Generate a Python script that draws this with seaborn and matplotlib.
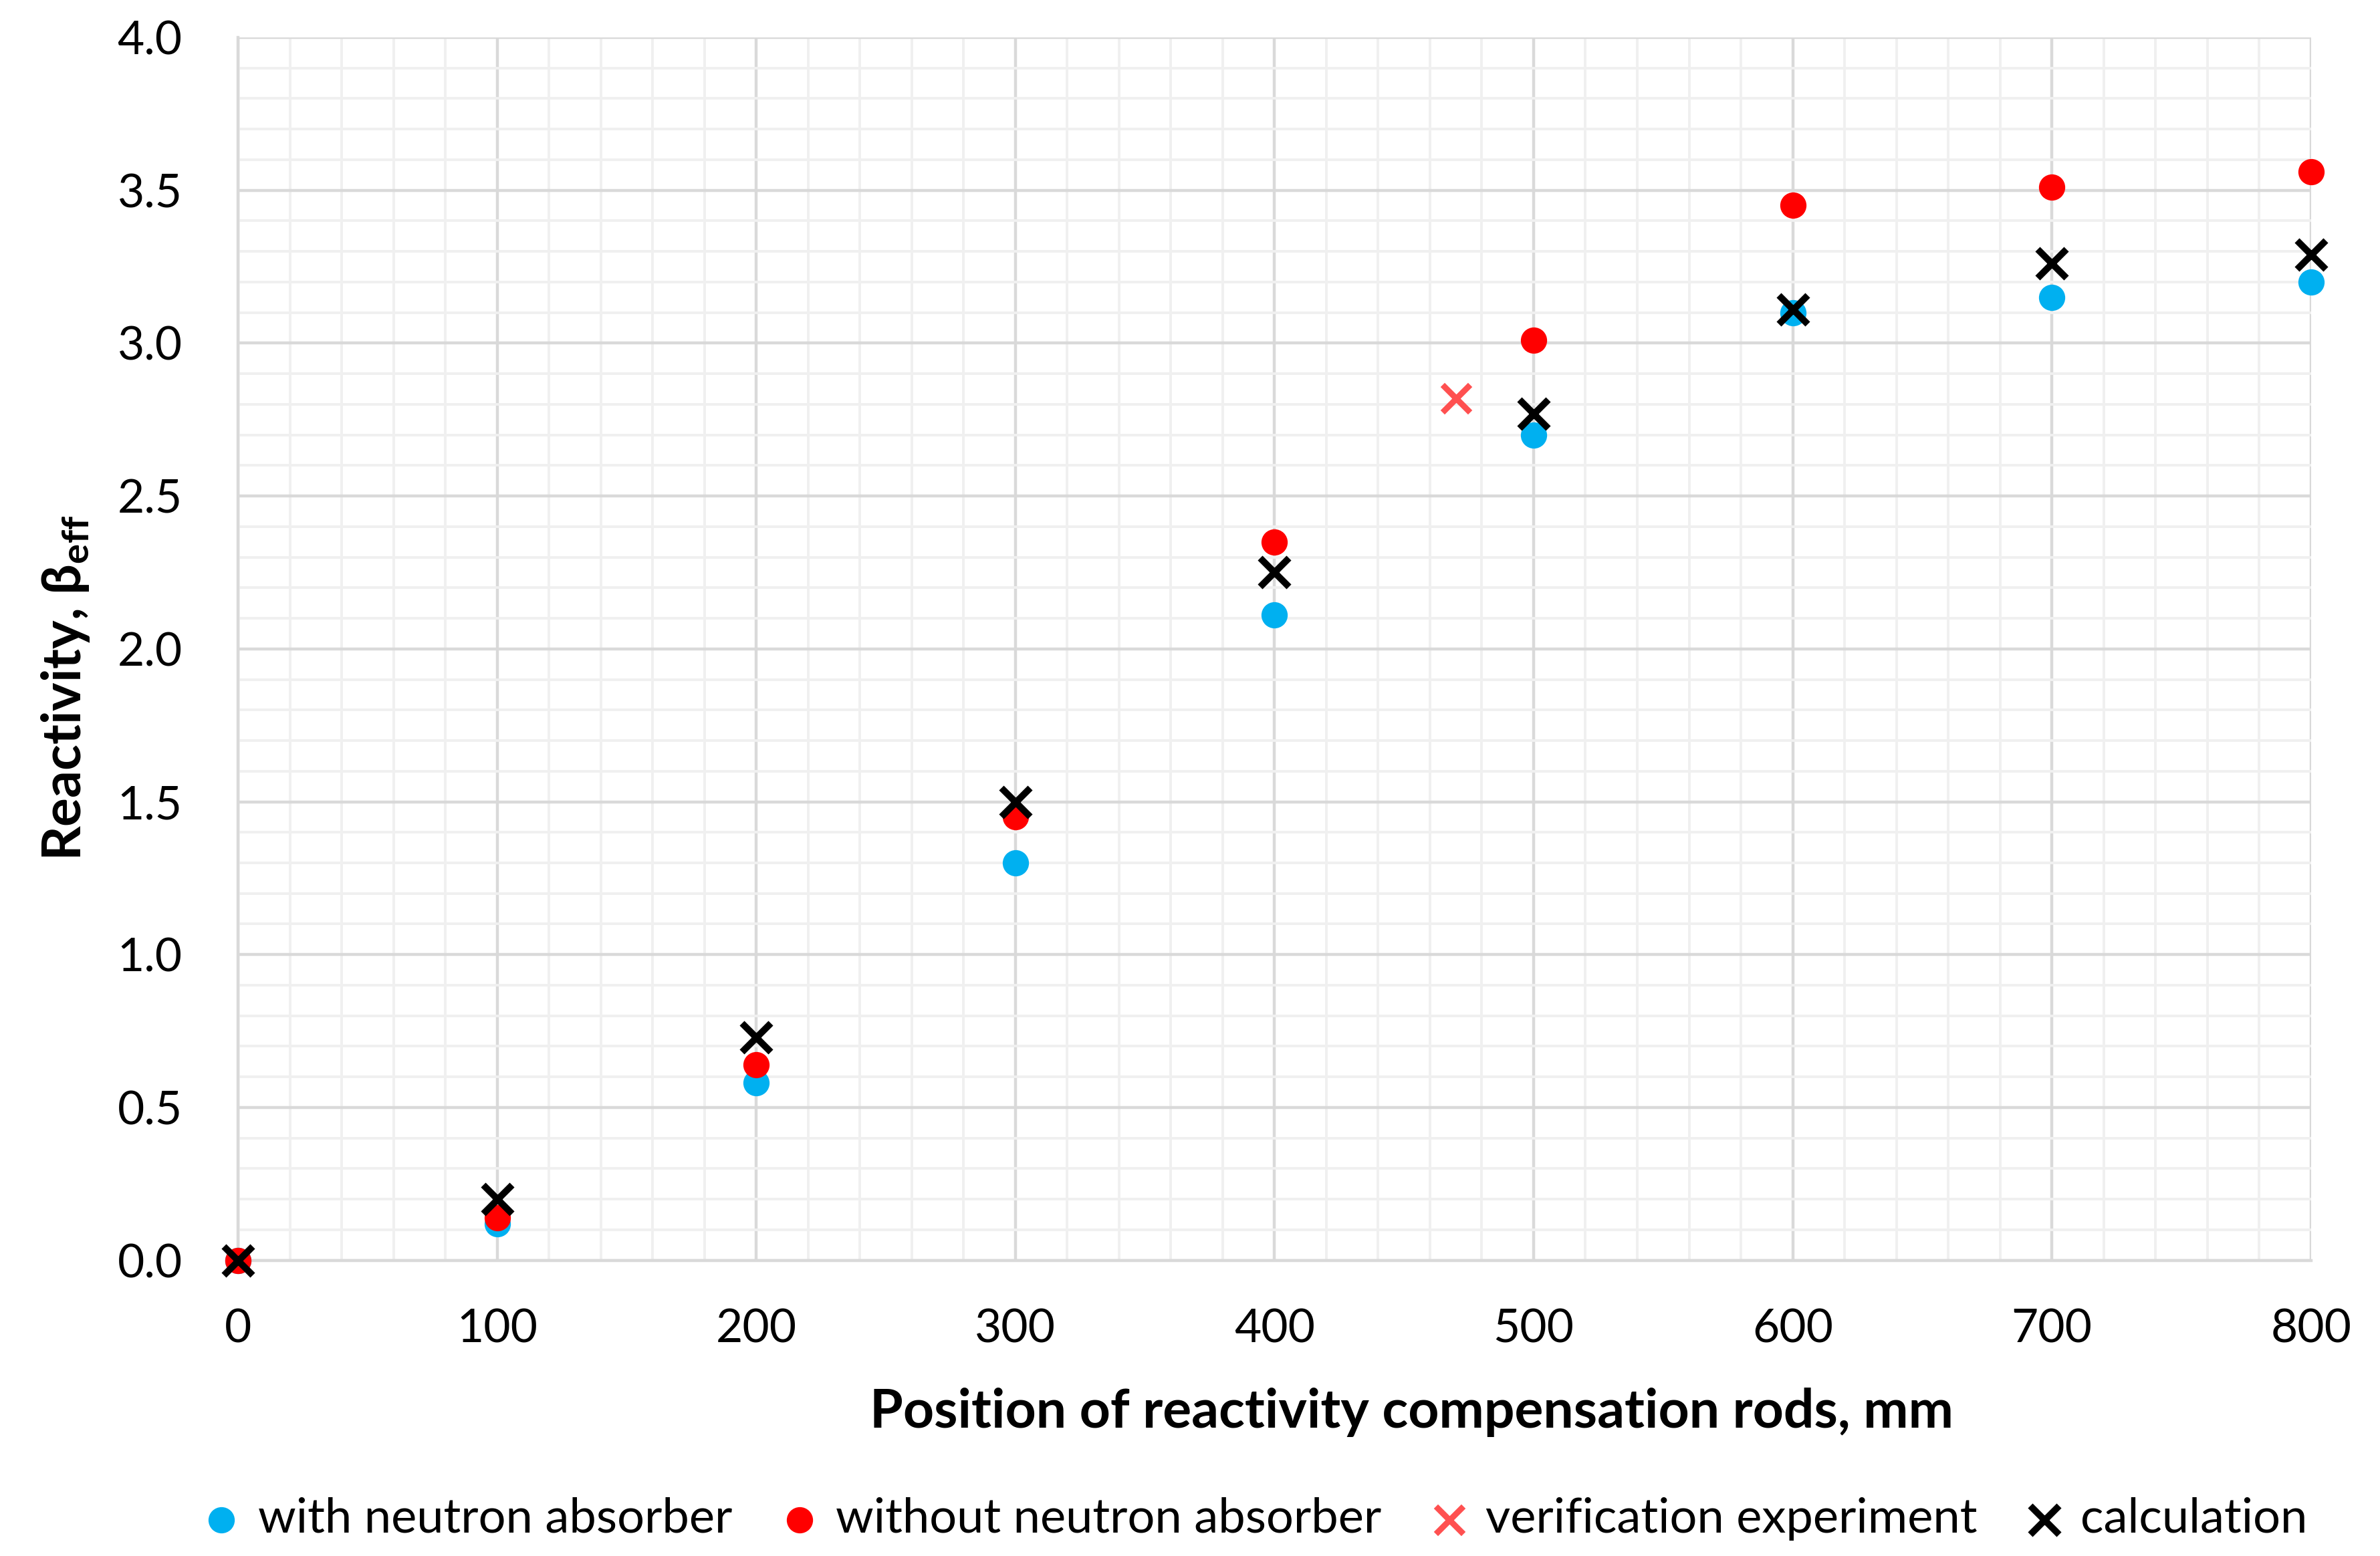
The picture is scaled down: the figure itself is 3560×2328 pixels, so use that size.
import numpy as np
import pandas as pd
import matplotlib.pyplot as plt
import seaborn as sns
from matplotlib.ticker import MultipleLocator

# rod position, mm
positions = [0, 100, 200, 300, 400, 500, 600, 700, 800]

with_absorber = [0.0, 0.12, 0.58, 1.30, 2.11, 2.70, 3.10, 3.15, 3.20]
without_absorber = [0.0, 0.14, 0.64, 1.45, 2.35, 3.01, 3.45, 3.51, 3.56]
calculation = [0.0, 0.20, 0.73, 1.50, 2.25, 2.77, 3.11, 3.26, 3.29]

verif_position = [470]
verif_value = [2.82]

sns.set_style("white")
plt.rcParams['font.family'] = ['Lato', 'DejaVu Sans']
plt.rcParams['text.color'] = 'black'
plt.rcParams['axes.labelcolor'] = 'black'
plt.rcParams['xtick.color'] = 'black'
plt.rcParams['ytick.color'] = 'black'
plt.rcParams['mathtext.fontset'] = 'custom'
plt.rcParams['mathtext.rm'] = 'Lato:bold'
plt.rcParams['mathtext.it'] = 'Lato:bold'
plt.rcParams['mathtext.bf'] = 'Lato:bold'

fig, ax = plt.subplots(figsize=(17.8, 11.64), dpi=200)

sns.scatterplot(x=positions, y=with_absorber, ax=ax, color='#00b0f0', s=200,
                marker='o', linewidth=0, label='with neutron absorber',
                zorder=3, clip_on=False)
sns.scatterplot(x=positions, y=without_absorber, ax=ax, color='#ff0000', s=200,
                marker='o', linewidth=0, label='without neutron absorber',
                zorder=4, clip_on=False)
sns.scatterplot(x=verif_position, y=verif_value, ax=ax, color='#ff5050', s=220,
                marker='x', linewidth=3.2, label='verification experiment',
                zorder=5, clip_on=False)
sns.scatterplot(x=positions, y=calculation, ax=ax, color='black', s=240,
                marker='x', linewidth=3.6, label='calculation',
                zorder=6, clip_on=False)

ax.set_xlim(0, 800)
ax.set_ylim(0, 4.0)
ax.xaxis.set_major_locator(MultipleLocator(100))
ax.xaxis.set_minor_locator(MultipleLocator(20))
ax.yaxis.set_major_locator(MultipleLocator(0.5))
ax.yaxis.set_minor_locator(MultipleLocator(0.1))
ax.yaxis.set_major_formatter(plt.FormatStrFormatter('%.1f'))

ax.grid(which='major', color='#d9d9d9', linewidth=1.6)
ax.grid(which='minor', color='#f0f0f0', linewidth=1.4)
ax.set_axisbelow(True)

for side in ['top', 'right']:
    ax.spines[side].set_visible(False)
for side in ['left', 'bottom']:
    ax.spines[side].set_color('#d9d9d9')
    ax.spines[side].set_linewidth(1.6)

ax.tick_params(axis='x', which='both', length=0, labelsize=25, pad=26)
ax.tick_params(axis='y', which='both', length=0, labelsize=25, pad=30)

ax.set_xlabel('Position of reactivity compensation rods, mm', fontsize=29,
              fontweight='bold', labelpad=20, x=0.566)
ax.set_ylabel(r'Reactivity, β$_{\mathregular{eff}}$', fontsize=29,
              fontweight='bold', labelpad=14, y=0.468)

ax.legend(loc='upper center', bbox_to_anchor=(0.49, -0.158), ncol=4,
          frameon=False, fontsize=26, handlelength=0.9, handletextpad=0.3,
          columnspacing=0.95, markerscale=1.0)

fig.subplots_adjust(left=0.1, right=0.971, top=0.976, bottom=0.19)
fig.savefig('out.png', dpi=200)
